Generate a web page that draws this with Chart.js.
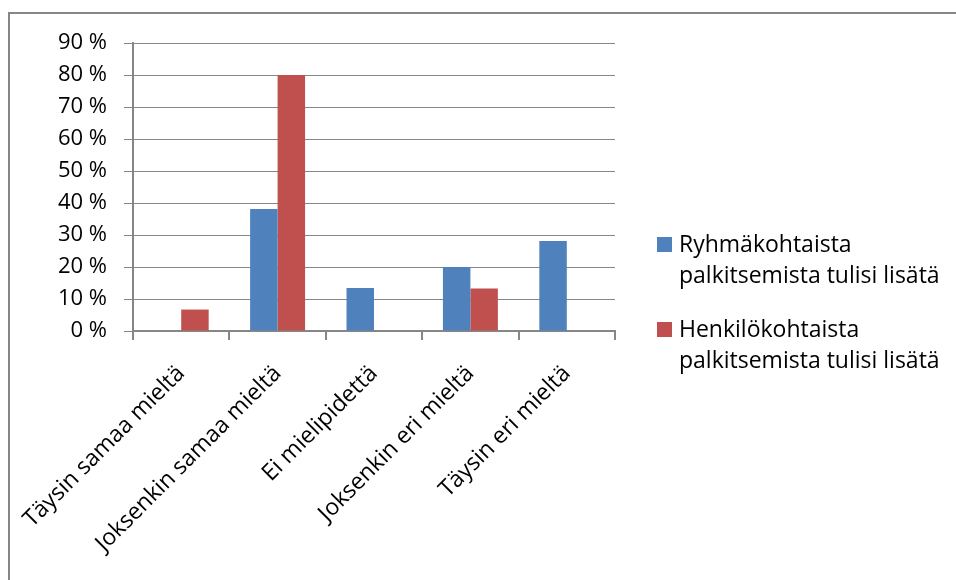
<!DOCTYPE html>
<html>
<head>
<meta charset="utf-8">
<script src="https://cdn.jsdelivr.net/npm/chart.js@4/dist/chart.umd.min.js"></script>
<style>
    body { margin: 0; background: #fff; }
    #wrap { width: 956px; height: 580px; position: relative; }
</style>
</head>
<body>
<div id="wrap"><canvas id="surveyChart"></canvas></div>
<script>
const categories = [
    "Täysin samaa mieltä",
    "Joksenkin samaa mieltä",
    "Ei mielipidettä",
    "Joksenkin eri mieltä",
    "Täysin eri mieltä"
];
const groupRewardValues = [0, 38.1, 13.4, 20, 28.1];
const personalRewardValues = [6.7, 80, 0, 13.3, 0];
const groupRewardLabel = ["Ryhmäkohtaista", "palkitsemista tulisi lisätä"];
const personalRewardLabel = ["Henkilökohtaista", "palkitsemista tulisi lisätä"];

const gridColor = "#868686";
const fontFamily = "'Open Sans', 'Liberation Sans', sans-serif";
const labelSize = 23;

Chart.defaults.font.family = fontFamily;
Chart.defaults.color = "#000";

// outer frame (top and left edges only)
const framePlugin = {
    id: "frame",
    beforeDraw(chart) {
        const ctx = chart.ctx;
        ctx.save();
        ctx.strokeStyle = gridColor;
        ctx.lineWidth = 2;
        ctx.beginPath();
        ctx.moveTo(9, chart.height);
        ctx.lineTo(9, 13);
        ctx.lineTo(chart.width, 13);
        ctx.stroke();
        ctx.restore();
    }
};

// legend on the right with two-line labels
const sideLegend = {
    id: "sideLegend",
    afterDraw(chart) {
        const ctx = chart.ctx;
        ctx.save();
        ctx.font = labelSize + "px " + fontFamily;
        ctx.textBaseline = "alphabetic";
        chart.data.datasets.forEach((ds, i) => {
            const base = 252 + i * 85;
            ctx.fillStyle = ds.backgroundColor;
            ctx.fillRect(657, base - 15, 15, 15);
            ctx.fillStyle = "#000";
            ds.legendLines.forEach((line, j) => {
                ctx.fillText(line, 679, base + j * 31);
            });
        });
        ctx.restore();
    }
};

new Chart(document.getElementById("surveyChart"), {
    type: "bar",
    data: {
        labels: categories,
        datasets: [{
            label: groupRewardLabel.join(" "),
            legendLines: groupRewardLabel,
            data: groupRewardValues,
            backgroundColor: "#4F81BD",
            categoryPercentage: 0.57,
            barPercentage: 1
        }, {
            label: personalRewardLabel.join(" "),
            legendLines: personalRewardLabel,
            data: personalRewardValues,
            backgroundColor: "#C0504D",
            categoryPercentage: 0.57,
            barPercentage: 1
        }]
    },
    options: {
        responsive: true,
        maintainAspectRatio: false,
        animation: false,
        layout: {
            padding: { top: 43, right: 341, left: 0, bottom: 0 }
        },
        plugins: {
            legend: { display: false },
            tooltip: { enabled: false }
        },
        scales: {
            x: {
                offset: true,
                grid: {
                    offset: true,
                    drawOnChartArea: false,
                    color: gridColor,
                    tickLength: 9,
                    lineWidth: 2
                },
                border: { color: gridColor, width: 2 },
                ticks: {
                    font: { size: labelSize },
                    maxRotation: 45,
                    minRotation: 45,
                    padding: 20
                },
                afterFit: scale => {
                    scale.height = 249;
                    scale.paddingLeft = 0;
                    scale.paddingRight = 0;
                }
            },
            y: {
                min: 0,
                max: 90,
                grid: {
                    color: gridColor,
                    lineWidth: 1,
                    tickLength: 9
                },
                border: { color: gridColor, width: 2 },
                ticks: {
                    stepSize: 10,
                    font: { size: 22 },
                    padding: 17,
                    callback: value => value + " %"
                },
                afterFit: scale => { scale.width = 133; }
            }
        }
    },
    plugins: [framePlugin, sideLegend]
});
</script>
</body>
</html>
